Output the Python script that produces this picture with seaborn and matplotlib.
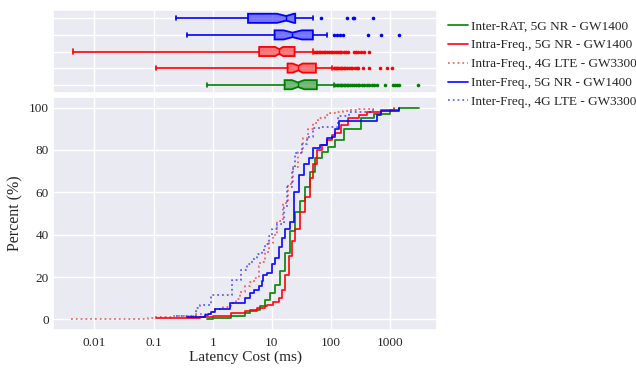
import numpy as np
import pandas as pd
import matplotlib
matplotlib.use("Agg")
import matplotlib.pyplot as plt
import seaborn as sns

# ---------------- data ----------------
series_names = [
    "Inter-RAT, 5G NR - GW1400",
    "Intra-Freq., 5G NR - GW1400",
    "Intra-Freq., 4G LTE - GW3300",
    "Inter-Freq., 5G NR - GW1400",
    "Inter-Freq., 4G LTE - GW3300",
]
series_colors = ["green", "red", "red", "blue", "blue"]
series_dotted = [False, False, True, False, True]

# CDF curves (latency in ms, cumulative percent)
green_x = [0.8, 1.0, 2.0, 3.56, 4.3, 6.4, 7.7, 9.4, 11.4, 13.9, 16.8, 20.4, 24.8, 30, 36.6, 44.5,
           54, 69.9, 90, 117, 165, 318, 530, 1000, 1400, 3100]
green_y = [0.1, 0.5, 1.6, 2.9, 4.5, 6.5, 9.2, 12.4, 16.4, 22.7, 31.5, 41.8, 50.6, 56, 62.5, 69.6,
           76, 79, 81.6, 84.7, 90, 95, 97, 99, 100, 100]

red_x = [0.11, 0.3, 0.6, 1.0, 2.0, 3.56, 5.6, 7.7, 8.3, 10.6, 13, 14.8, 16.8, 19.2, 21.8, 24.8,
         30, 36.6, 44.5, 50.4, 57.5, 69.9, 84.7, 103, 117, 150, 190, 300, 410, 700, 1150]
red_y = [0.5, 0.8, 1.3, 1.8, 2.9, 4, 5.2, 6.5, 7, 8.4, 10.3, 14, 21, 30, 37, 42.6,
         50.6, 57.7, 67, 73.6, 80, 82.4, 84.7, 87, 88, 92, 95, 96.5, 98, 99, 100]

redlte_x = [0.0041, 0.01, 0.03, 0.08, 0.1, 0.2, 0.5, 1.0, 1.5, 2.0, 2.5, 2.93, 3.56, 4.2, 4.92,
            5.98, 6.4, 7.7, 9.0, 10.4, 12.4, 15.2, 18.5, 22.5, 27.4, 33.5, 40.8, 49.7, 61, 80,
            96.5, 122, 160, 209, 300, 515]
redlte_y = [0.1, 0.2, 0.4, 0.8, 1.0, 1.6, 2.5, 5.0, 6.0, 7.6, 9.5, 13, 15.6, 17.5, 19.5,
            25, 27, 32, 36, 40, 46.6, 55, 64, 72, 79, 85.5, 90, 92.7, 95, 96.5,
            97.5, 98, 98.5, 99, 99.5, 100]

blue_x = [0.37, 0.75, 0.82, 0.95, 1.1, 1.99, 3.56, 4.3, 4.92, 5.98, 6.8, 7.2, 8.3, 10, 11.4, 13,
          14.8, 16.8, 20.4, 23.2, 28.2, 34.3, 41.6, 50.4, 65, 84, 103, 115, 134, 600, 700, 1390]
blue_y = [1, 2, 2.5, 3.7, 5, 7.6, 10, 12.4, 14, 15.6, 18, 21, 22, 26, 29, 34,
          38.6, 42.6, 46, 60, 68, 73.6, 76, 80.8, 82.4, 85.5, 86.3, 90, 93.5, 96.5, 98.5, 100]

bluelte_x = [0.24, 0.53, 0.62, 0.95, 2.12, 3.0, 3.8, 4.6, 5.6, 6.8, 7.7, 8.8, 10.0, 12.2, 15.8,
             18.0, 21.8, 24.8, 32, 39, 50.4, 65, 117, 130, 200, 520]
bluelte_y = [1.7, 5.2, 6.8, 11.6, 18.8, 23.5, 26, 28.3, 30.7, 33, 35.5, 39.4, 42.6, 45, 53,
             62.5, 71, 78.4, 83, 86, 90.3, 90.8, 91, 96, 98, 100]

cdf_x = [green_x, red_x, redlte_x, blue_x, bluelte_x]
cdf_y = [green_y, red_y, redlte_y, blue_y, bluelte_y]

# Box plot statistics (ms)
box_q1 = [16.4, 18.4, 6.1, 11.1, 3.95]
box_med = [27.5, 28.0, 13.3, 22.3, 17.5]
box_q3 = [57.5, 55.5, 24.2, 49.3, 24.8]
box_cilo = [21.8, 22.5, 11.4, 15.8, 12.2]
box_cihi = [35.2, 33.0, 15.4, 32.0, 23.5]
box_whislo = [0.8, 0.112, 0.00436, 0.37, 0.238]
box_whishi = [113, 103, 48.6, 87, 48.6]
fliers_green = [118, 125, 132, 140, 148, 156, 165, 175, 185, 196, 210, 225, 240, 260, 280, 300,
                330, 360, 400, 440, 490, 540, 590, 820, 1120, 1200, 1300, 1380, 2980]
fliers_red = [110, 115, 120, 126, 132, 140, 148, 156, 165, 175, 186, 200, 215, 230, 250, 270,
              290, 340, 445, 670, 870, 1090]
fliers_redlte = [52, 55, 58, 62, 66, 70, 75, 80, 86, 92, 98, 105, 112, 120, 130, 140, 150, 165,
                 180, 190, 240, 265, 290, 320, 355, 430]
fliers_blue = [110, 125, 143, 158, 427, 693, 1390]
fliers_bluelte = [67, 184, 233, 244, 520]
box_fliers = [fliers_green, fliers_red, fliers_redlte, fliers_blue, fliers_bluelte]

xtick_vals = [0.01, 0.1, 1, 10, 100, 1000]
xtick_labels = ["0.01", "0.1", "1", "10", "100", "1000"]
ytick_vals = [0, 20, 40, 60, 80, 100]

# ---------------- style ----------------
sns.set_theme(style="darkgrid")
plt.rcParams["font.family"] = ["Liberation Serif", "DejaVu Serif"]

fig = plt.figure(figsize=(6.36, 3.68), dpi=100)
fig.patch.set_facecolor("white")
ax_box = fig.add_axes([0.0833, 0.7473, 0.604, 0.2255])
ax = fig.add_axes([0.0833, 0.1033, 0.604, 0.633], sharex=ax_box)

# ---------------- CDF lines ----------------
for name, xs, ys, c, dotted in zip(series_names, cdf_x, cdf_y, series_colors, series_dotted):
    df = pd.DataFrame({"x": xs, "y": ys})
    sns.lineplot(data=df, x="x", y="y", ax=ax, color=c, estimator=None, sort=False,
                 drawstyle="steps-post", linestyle=":" if dotted else "-",
                 linewidth=1.3, alpha=0.6 if dotted else 0.9, label=name)

ax.set_xscale("log")
ax.set_xlim(0.002, 6200)
ax.set_ylim(-5, 105)
ax.set_xticks(xtick_vals)
ax.set_xticklabels(xtick_labels)
ax.xaxis.set_minor_locator(matplotlib.ticker.NullLocator())
ax.set_yticks(ytick_vals)
ax.tick_params(axis="both", labelsize=9.5, length=0)
ax.tick_params(axis="x", pad=5)
ax.tick_params(axis="y", pad=3)
ax.set_xlabel("Latency Cost (ms)", fontsize=11, labelpad=1)
ax.set_ylabel("Percent (%)", fontsize=11.5, labelpad=4)

# ---------------- box plots ----------------
stats = []
for i in range(5):
    stats.append(dict(med=box_med[i], q1=box_q1[i], q3=box_q3[i],
                      whislo=box_whislo[i], whishi=box_whishi[i],
                      cilo=box_cilo[i], cihi=box_cihi[i], fliers=box_fliers[i]))
positions = [1, 2, 3, 4, 5]
kw = dict(positions=positions, widths=0.55, patch_artist=True, shownotches=True,
          showfliers=True, capwidths=0.25)
try:
    res = ax_box.bxp(stats, orientation="horizontal", **kw)
except TypeError:
    res = ax_box.bxp(stats, vert=False, **kw)

for i, c in enumerate(series_colors):
    b = res["boxes"][i]
    b.set_facecolor(matplotlib.colors.to_rgba(c, 0.5))
    b.set_edgecolor(c)
    b.set_linewidth(1.3)
    for w in res["whiskers"][2 * i:2 * i + 2]:
        w.set_color(c)
        w.set_linewidth(1.2)
    for cp in res["caps"][2 * i:2 * i + 2]:
        cp.set_color(c)
        cp.set_linewidth(1.2)
    res["medians"][i].set_color(c)
    res["medians"][i].set_linewidth(1.0)
    f = res["fliers"][i]
    f.set_marker("o")
    f.set_markerfacecolor(c)
    f.set_markeredgecolor(c)
    f.set_markersize(2.6)
    f.set_markeredgewidth(0)

ax_box.set_ylim(0.5, 5.5)
ax_box.set_yticks(positions)
ax_box.tick_params(labelleft=False, labelbottom=False, length=0)
ax_box.set_xlabel("")
ax_box.set_ylabel("")

# ---------------- legend ----------------
handles, labels = ax.get_legend_handles_labels()
if ax.get_legend():
    ax.get_legend().remove()
fig.legend(handles, labels, loc="upper left", bbox_to_anchor=(0.692, 0.966),
           frameon=False, fontsize=9.5, handlelength=1.5, handletextpad=0.25,
           labelspacing=0.5, borderaxespad=0.2)

fig.savefig("out.png", dpi=100, facecolor="white")
